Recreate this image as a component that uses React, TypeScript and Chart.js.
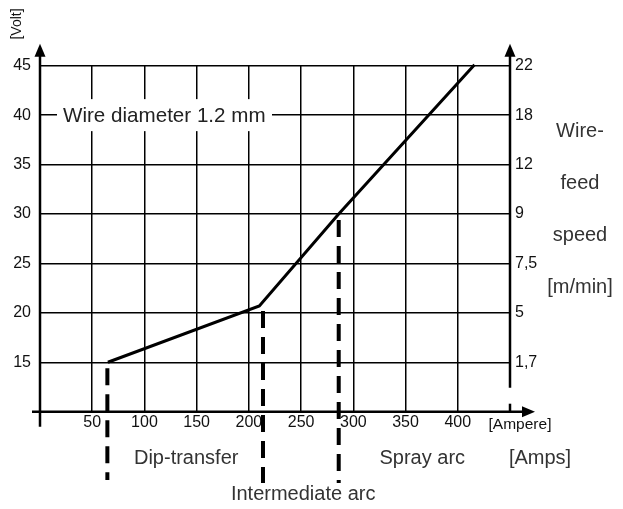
import React, { useEffect, useRef } from "react";
import { Chart, registerables } from "chart.js";

Chart.register(...registerables);

// ---- data ----
const currentAmps = [65, 210, 286, 416];
const arcVoltage = [15, 20.7, 30, 45.1];

const boundaryAmps = [64.5, 213.5, 286];
const boundaryTopVolts = [15, 20.8, 30];
const boundaryBottomVolts = [3.1, 2.8, 2.8];

const xTickValues = [50, 100, 150, 200, 250, 300, 350, 400];
const voltTickValues = [15, 20, 25, 30, 35, 40, 45];
const wireSpeedLabels = ["", "1,7", "5", "7,5", "9", "12", "18", "22"];

const regionLabels = ["Dip-transfer", "Intermediate arc", "Spray arc"];
const wireSpeedTitle = ["Wire-", "feed", "speed", "[m/min]"];

const X_MIN = 0;
const X_MAX = 450;
const Y_MIN = 10;
const Y_MAX = 45;

const TICK_FONT = "'Liberation Sans', Arial, sans-serif";
const TEXT_FONT = "'Liberation Sans', Arial, sans-serif";

const overlayPlugin = {
  id: "overlay",
  afterDraw(chart: any) {
    const { ctx } = chart;
    const x = chart.scales.x;
    const y = chart.scales.y;
    const x0 = x.getPixelForValue(X_MIN);
    const xR = x.getPixelForValue(X_MAX);
    const yB = y.getPixelForValue(Y_MIN);
    const yT = y.getPixelForValue(Y_MAX);

    ctx.save();
    ctx.strokeStyle = "#000";
    ctx.fillStyle = "#000";
    ctx.lineWidth = 2.5;
    ctx.lineCap = "butt";

    const line = (ax: number, ay: number, bx: number, by: number) => {
      ctx.beginPath();
      ctx.moveTo(ax, ay);
      ctx.lineTo(bx, by);
      ctx.stroke();
    };
    const arrowUp = (cx: number, tip: number) => {
      ctx.beginPath();
      ctx.moveTo(cx, tip);
      ctx.lineTo(cx - 5.5, tip + 13);
      ctx.lineTo(cx + 5.5, tip + 13);
      ctx.closePath();
      ctx.fill();
    };
    const arrowRight = (tip: number, cy: number) => {
      ctx.beginPath();
      ctx.moveTo(tip, cy);
      ctx.lineTo(tip - 13, cy - 5.5);
      ctx.lineTo(tip - 13, cy + 5.5);
      ctx.closePath();
      ctx.fill();
    };

    // left axis
    line(x0, yT - 10, x0, yB + 15);
    arrowUp(x0, yT - 22);
    // right axis
    line(xR, yT - 10, xR, yB - 24);
    line(xR, yB - 8, xR, yB);
    arrowUp(xR, yT - 22);
    // x axis
    line(x0 - 8, yB, xR + 14, yB);
    arrowRight(xR + 25, yB);

    // "Wire diameter" label on 40 V line
    const y40 = y.getPixelForValue(40);
    ctx.fillStyle = "#fff";
    ctx.fillRect(x0 + 17, y40 - 16, 215, 32);
    ctx.fillStyle = "#222";
    ctx.font = `20.6px ${TEXT_FONT}`;
    ctx.textAlign = "left";
    ctx.textBaseline = "middle";
    ctx.fillText("Wire diameter 1.2 mm", x0 + 23, y40 + 1);

    // unit labels
    ctx.font = `15.5px ${TICK_FONT}`;
    ctx.fillStyle = "#111";
    ctx.textAlign = "center";
    ctx.fillText("[Ampere]", xR + 10, yB + 13);

    ctx.save();
    ctx.translate(17, 24);
    ctx.rotate(-Math.PI / 2);
    ctx.font = `14px ${TICK_FONT}`;
    ctx.fillText("[Volt]", 0, 0);
    ctx.restore();

    // region labels
    ctx.font = `20px ${TEXT_FONT}`;
    ctx.fillStyle = "#333";
    ctx.textAlign = "center";
    ctx.fillText(regionLabels[0], x.getPixelForValue(140), yB + 47);
    ctx.fillText(regionLabels[1], x.getPixelForValue(252), yB + 83);
    ctx.fillText(regionLabels[2], x.getPixelForValue(366), yB + 47);
    ctx.fillText("[Amps]", xR + 30, yB + 47);

    // right-side title
    wireSpeedTitle.forEach((t, i) => {
      ctx.fillText(t, xR + 70, y.getPixelForValue(38.3 - i * 5.25));
    });

    ctx.restore();
  },
};

export default function App() {
  const canvasRef = useRef<HTMLCanvasElement | null>(null);

  useEffect(() => {
    const canvas = canvasRef.current;
    if (!canvas) return;

    const mainLine = currentAmps.map((a, i) => ({ x: a, y: arcVoltage[i] }));
    const dashed = boundaryAmps.map((a, i) => ({
      type: "scatter" as const,
      data: [
        { x: a, y: boundaryTopVolts[i] },
        { x: a, y: boundaryBottomVolts[i] },
      ],
      showLine: true,
      borderColor: "#000",
      borderWidth: 4,
      borderDash: [17, 9],
      borderDashOffset: 20,
      pointRadius: 0,
      clip: false as any,
    }));

    const chart = new Chart(canvas, {
      type: "scatter",
      data: {
        datasets: [
          {
            data: mainLine,
            showLine: true,
            borderColor: "#000",
            borderWidth: 3,
            pointRadius: 0,
            tension: 0,
            clip: false as any,
          },
          ...dashed,
        ],
      },
      options: {
        responsive: false,
        animation: false,
        devicePixelRatio: 1,
        layout: { padding: { top: 65.7, left: 0, right: 0, bottom: 0 } },
        plugins: {
          legend: { display: false },
          tooltip: { enabled: false },
        },
        scales: {
          x: {
            type: "linear",
            min: X_MIN,
            max: X_MAX,
            afterFit: (s: any) => {
              s.height = 97.3;
            },
            afterBuildTicks: (s: any) => {
              s.ticks = [X_MIN, ...xTickValues, X_MAX].map((v) => ({ value: v }));
            },
            border: { display: false },
            grid: {
              drawTicks: false,
              lineWidth: 1.5,
              color: (c: any) =>
                c.tick && (c.tick.value === X_MIN || c.tick.value === X_MAX)
                  ? "rgba(0,0,0,0)"
                  : "#000",
            },
            ticks: {
              padding: 1,
              color: "#111",
              font: { family: TICK_FONT, size: 16 },
              callback: (v: any) => (xTickValues.includes(Number(v)) ? String(v) : ""),
            },
          },
          y: {
            type: "linear",
            position: "left",
            min: Y_MIN,
            max: Y_MAX,
            afterFit: (s: any) => {
              s.width = 40;
            },
            afterBuildTicks: (s: any) => {
              s.ticks = [Y_MIN, ...voltTickValues].map((v) => ({ value: v }));
            },
            border: { display: false },
            grid: {
              drawTicks: false,
              lineWidth: 1.5,
              color: (c: any) =>
                c.tick && c.tick.value === Y_MIN ? "rgba(0,0,0,0)" : "#000",
            },
            ticks: {
              padding: 9,
              color: "#111",
              font: { family: TICK_FONT, size: 16 },
              callback: (v: any) => (voltTickValues.includes(Number(v)) ? String(v) : ""),
            },
          },
          y2: {
            type: "linear",
            position: "right",
            min: Y_MIN,
            max: Y_MAX,
            afterFit: (s: any) => {
              s.width = 113;
            },
            afterBuildTicks: (s: any) => {
              s.ticks = [Y_MIN, ...voltTickValues].map((v) => ({ value: v }));
            },
            border: { display: false },
            grid: { display: false, drawTicks: false },
            ticks: {
              padding: 5,
              color: "#111",
              font: { family: TICK_FONT, size: 16 },
              callback: (_v: any, i: number) => wireSpeedLabels[i] ?? "",
            },
          },
        },
      },
      plugins: [overlayPlugin],
    });

    return () => chart.destroy();
  }, []);

  return (
    <div style={{ position: "absolute", left: 0, top: 0, width: 623, height: 509, background: "#fff" }}>
      <canvas ref={canvasRef} width={623} height={509} style={{ display: "block" }} />
    </div>
  );
}
